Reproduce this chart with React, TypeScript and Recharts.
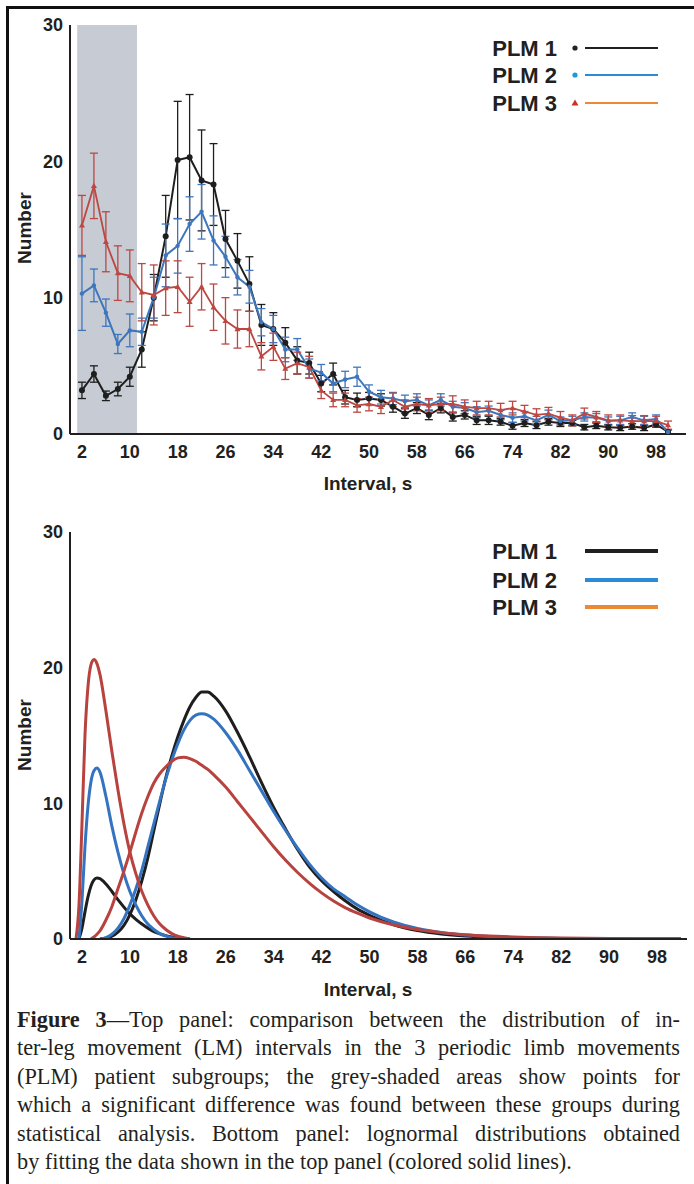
import { ErrorBar, Line, LineChart, ReferenceArea, XAxis, YAxis } from "recharts";

// top panel: LM interval histogram (mean +/- error) per PLM subgroup
const intervals = [
  2, 4, 6, 8, 10, 12, 14, 16, 18, 20, 22, 24, 26, 28, 30, 32, 34, 36, 38, 40, 42, 44, 46, 48, 50,
  52, 54, 56, 58, 60, 62, 64, 66, 68, 70, 72, 74, 76, 78, 80, 82, 84, 86, 88, 90, 92, 94, 96, 98, 100,
];
const plm1 = [
  3.2, 4.4, 2.8, 3.3, 4.2, 6.2, 10.0, 14.5, 20.1, 20.3, 18.6, 18.3, 14.3, 12.7, 11.0, 8.0, 7.7, 6.7, 5.4, 5.2,
  3.7, 4.4, 2.7, 2.5, 2.6, 2.5, 2.0, 1.5, 1.9, 1.4, 1.9, 1.25, 1.4, 1.0, 1.0, 0.9, 0.6, 0.8, 0.65, 0.9,
  0.8, 0.8, 0.5, 0.6, 0.5, 0.45, 0.55, 0.45, 0.7, 0.15,
];
const plm1Err = [
  0.6, 0.6, 0.35, 0.5, 0.7, 1.3, 1.7, 3.0, 4.3, 4.6, 3.7, 3.0, 2.1, 2.0, 2.0, 1.5, 1.2, 1.1, 1.0, 0.8,
  0.6, 0.8, 0.5, 0.5, 0.45, 0.45, 0.4, 0.35, 0.4, 0.35, 0.35, 0.3, 0.3, 0.3, 0.3, 0.25, 0.25, 0.25, 0.25, 0.25,
  0.25, 0.2, 0.2, 0.2, 0.2, 0.2, 0.2, 0.2, 0.2, 0.15,
];
const plm2 = [
  10.3, 10.9, 8.9, 6.6, 7.6, 7.5, 10.0, 13.1, 13.8, 15.4, 16.3, 14.2, 13.0, 11.5, 10.8, 8.2, 7.7, 6.2, 6.2, 4.8,
  4.5, 3.7, 4.0, 4.2, 3.1, 2.7, 2.6, 2.4, 2.5, 2.1, 2.5, 2.0, 1.9, 1.6, 1.7, 1.4, 1.2, 1.3, 1.0, 1.4,
  0.95, 1.0, 1.25, 1.2, 0.95, 1.0, 1.25, 1.0, 1.1, 0.15,
];
const plm2Err = [
  2.7, 1.2, 1.0, 0.7, 1.2, 1.0, 1.5, 2.3, 2.0, 2.0, 2.0, 1.8, 1.5, 1.3, 1.2, 1.0, 1.0, 0.9, 0.8, 0.7,
  0.6, 0.6, 0.6, 0.7, 0.5, 0.5, 0.45, 0.45, 0.45, 0.4, 0.45, 0.4, 0.4, 0.4, 0.35, 0.35, 0.35, 0.35, 0.3, 0.35,
  0.3, 0.3, 0.3, 0.3, 0.3, 0.3, 0.3, 0.3, 0.3, 0.15,
];
const plm3 = [
  15.3, 18.2, 14.1, 11.8, 11.6, 10.4, 10.2, 10.7, 10.8, 9.7, 10.8, 9.3, 8.3, 7.7, 7.7, 5.7, 6.4, 4.8, 5.2, 4.9,
  3.2, 2.5, 2.5, 2.1, 2.2, 2.0, 2.5, 2.0, 2.2, 2.1, 2.2, 2.2, 2.0, 1.9, 1.9, 1.75, 1.9, 1.65, 1.4, 1.5,
  1.2, 1.0, 1.5, 1.25, 1.0, 1.0, 0.95, 0.95, 0.95, 0.65,
];
const plm3Err = [
  2.2, 2.4, 2.2, 2.0, 1.9, 2.1, 2.2, 2.0, 1.9, 1.8, 1.7, 1.7, 1.7, 1.4, 1.3, 1.0, 1.0, 0.8, 0.8, 0.8,
  0.6, 0.5, 0.5, 0.5, 0.5, 0.5, 0.5, 0.5, 0.5, 0.5, 0.5, 0.6, 0.5, 0.5, 0.5, 0.5, 0.5, 0.45, 0.45, 0.45,
  0.45, 0.4, 0.4, 0.4, 0.4, 0.4, 0.4, 0.4, 0.35, 0.3,
];
// grey-shaded significant range
const sigBand = [1.2, 11.2];

// bottom panel: fitted lognormal components
const fitX = [
  1, 1.5, 2, 2.5, 3, 3.5, 4, 4.5, 5, 6, 7, 8, 9, 10, 11, 12, 13, 14, 15, 16, 17, 18, 19, 20, 21, 22, 23, 24,
  26, 28, 30, 32, 34, 36, 38, 40, 42, 44, 46, 48, 50, 54, 58, 62, 66, 70, 74, 78, 82, 86, 90, 94, 98, 102,
];
const fit1Short = [
  null, 0, 0.8, 2.0, 3.1, 3.9, 4.35, 4.5, 4.45, 4.05, 3.5, 2.9, 2.35, 1.85, 1.45, 1.1, 0.8, 0.55, 0.38, 0.25,
  0.15, 0.08, 0.03, 0, null, null, null, null, null, null, null, null, null, null, null, null, null, null, null, null,
  null, null, null, null, null, null, null, null, null, null, null, null, null, null,
];
const fit1Long = [
  null, null, null, null, null, null, null, null, 0, 0.05, 0.2, 0.5, 1.0, 1.8, 2.9, 4.3, 6.0, 8.0, 10.0, 11.9,
  13.5, 14.9, 16.1, 17.1, 17.8, 18.2, 18.2, 17.9, 16.8, 15.2, 13.4, 11.5, 9.7, 8.1, 6.6, 5.3, 4.3, 3.5, 2.8, 2.2,
  1.75, 1.05, 0.62, 0.37, 0.22, 0.13, 0.08, 0.05, 0.03, 0.02, 0.01, 0.005, 0, 0,
];
const fit2Short = [
  null, 0, 2.8, 6.8, 9.8, 11.6, 12.4, 12.6, 12.3, 10.5, 8.3, 6.4, 4.8, 3.5, 2.5, 1.7, 1.1, 0.7, 0.4, 0.22,
  0.1, 0.04, 0, null, null, null, null, null, null, null, null, null, null, null, null, null, null, null, null, null,
  null, null, null, null, null, null, null, null, null, null, null, null, null, null,
];
const fit2Long = [
  null, null, null, null, null, null, null, null, 0, 0.1, 0.35, 0.8, 1.5, 2.5, 3.7, 5.1, 6.8, 8.5, 10.2, 11.8,
  13.2, 14.4, 15.4, 16.1, 16.5, 16.6, 16.5, 16.2, 15.2, 13.9, 12.4, 10.9, 9.4, 8.0, 6.7, 5.5, 4.5, 3.7, 3.1, 2.5,
  2.0, 1.25, 0.78, 0.48, 0.29, 0.18, 0.11, 0.065, 0.04, 0.025, 0.015, 0.008, 0.004, 0,
];
const fit3Short = [
  0, 2.5, 8.5, 15.0, 18.6, 20.2, 20.6, 20.3, 19.5, 16.8, 13.8, 11.0, 8.5, 6.4, 4.8, 3.5, 2.5, 1.7, 1.1, 0.7,
  0.4, 0.2, 0.1, 0, null, null, null, null, null, null, null, null, null, null, null, null, null, null, null, null,
  null, null, null, null, null, null, null, null, null, null, null, null, null, null,
];
const fit3Long = [
  null, null, null, null, null, 0, 0.15, 0.35, 0.6, 1.4, 2.4, 3.7, 5.0, 6.4, 7.9, 9.3, 10.5, 11.5, 12.2, 12.7,
  13.1, 13.35, 13.4, 13.3, 13.1, 12.8, 12.5, 12.1, 11.2, 10.1, 9.0, 7.9, 6.8, 5.8, 4.9, 4.1, 3.4, 2.8, 2.3, 1.9,
  1.55, 1.05, 0.7, 0.47, 0.32, 0.22, 0.15, 0.1, 0.07, 0.05, 0.035, 0.025, 0.018, 0.013,
];

const groups = ["PLM 1", "PLM 2", "PLM 3"];
const xTicks = [2, 10, 18, 26, 34, 42, 50, 58, 66, 74, 82, 90, 98];
const yTicks = [0, 10, 20, 30];

const topData = intervals.map((x, i) => ({
  x,
  p1: plm1[i], e1: plm1Err[i],
  p2: plm2[i], e2: plm2Err[i],
  p3: plm3[i], e3: plm3Err[i],
}));
const fitData = fitX.map((x, i) => ({
  x,
  s1: fit1Short[i], l1: fit1Long[i],
  s2: fit2Short[i], l2: fit2Long[i],
  s3: fit3Short[i], l3: fit3Long[i],
}));

const SANS = "'Liberation Sans', Arial, sans-serif";
const tick = { fontSize: 18, fontWeight: 700, fill: "#231f20", fontFamily: SANS };
const frame = { stroke: "#231f20", strokeWidth: 2 };

const C1 = "#1e1e1e";
const C2 = "#3d76bd";
const C3 = "#bd4741";

function Triangle(props: any) {
  const { cx, cy } = props;
  if (cx == null || cy == null) return null;
  return <path d={`M${cx},${cy - 3.2} L${cx + 3},${cy + 2.2} L${cx - 3},${cy + 2.2} Z`} fill={C3} />;
}

function Axes() {
  return (
    <>
      <XAxis dataKey="x" type="number" domain={[0, 103]} ticks={xTicks} tick={tick} tickLine={false}
        tickSize={0} tickMargin={11} axisLine={frame} height={30} allowDataOverflow />
      <XAxis xAxisId="top" orientation="top" type="number" domain={[0, 103]} tick={false} tickLine={false}
        axisLine={frame} height={0} />
      <YAxis type="number" domain={[0, 30]} ticks={yTicks} tick={tick} tickLine={false} tickSize={0}
        tickMargin={7} axisLine={frame} width={70} allowDataOverflow />
      <YAxis yAxisId="right" orientation="right" type="number" domain={[0, 30]} tick={false} tickLine={false}
        axisLine={frame} width={0} />
    </>
  );
}

function TopPanel() {
  return (
    <LineChart width={694} height={470} data={topData} margin={{ top: 25, right: 8, left: 0, bottom: 6 }}>
      <ReferenceArea x1={sigBand[0]} x2={sigBand[1]} y1={0} y2={30} fill="#c6cbd4" fillOpacity={1} stroke="none" />
      {Axes()}
      <Line dataKey="p1" stroke={C1} strokeWidth={2} isAnimationActive={false}
        dot={{ r: 3, fill: C1, stroke: C1, strokeWidth: 0 }}>
        <ErrorBar dataKey="e1" direction="y" width={4} stroke={C1} strokeWidth={1.3} />
      </Line>
      <Line dataKey="p2" stroke={C2} strokeWidth={2} isAnimationActive={false}
        dot={{ r: 2.2, fill: C2, stroke: C2, strokeWidth: 0 }}>
        <ErrorBar dataKey="e2" direction="y" width={4} stroke={C2} strokeWidth={1.3} />
      </Line>
      <Line dataKey="p3" stroke={C3} strokeWidth={1.8} isAnimationActive={false} dot={<Triangle />}>
        <ErrorBar dataKey="e3" direction="y" width={4} stroke={C3} strokeWidth={1.3} />
      </Line>
    </LineChart>
  );
}

function BottomPanel() {
  const series: Array<[string, string]> = [["s1", C1], ["l1", C1], ["s2", "#3473c0"], ["l2", "#3473c0"], ["s3", "#b8423e"], ["l3", "#b8423e"]];
  return (
    <LineChart width={694} height={470} data={fitData} margin={{ top: 32, right: 7, left: 0, bottom: 1 }}>
      {Axes()}
      {series.map(([k, c]) => (
        <Line key={k} dataKey={k} type="monotone" stroke={c} strokeWidth={3} dot={false}
          connectNulls={false} isAnimationActive={false} />
      ))}
    </LineChart>
  );
}

function LegendBox({ top, markers }: { top: number; markers: boolean }) {
  const lineColors = ["#202020", "#2b8bd6", "#ea8a36"];
  const rowY = markers ? [23, 50, 78] : [19, 48, 75];
  return (
    <svg width={694} height={110} style={{ position: "absolute", left: 0, top }}>
      {groups.map((g, i) => (
        <g key={g}>
          <text x={557} y={rowY[i]} textAnchor="end" dominantBaseline="central" fontFamily={SANS}
            fontWeight={700} fontSize={22} fill="#231f20">{g}</text>
          {markers && i === 0 && <circle cx={575} cy={rowY[i]} r={2.6} fill="#222" />}
          {markers && i === 1 && <circle cx={575} cy={rowY[i]} r={2.6} fill="#1f9ad8" />}
          {markers && i === 2 && (
            <path d={`M575,${rowY[i] - 3.5} L578.5,${rowY[i] + 2.5} L571.5,${rowY[i] + 2.5} Z`} fill="#cc3328" />
          )}
          <line x1={585} x2={658} y1={rowY[i]} y2={rowY[i]} stroke={lineColors[i]}
            strokeWidth={markers ? 2 : 4} />
        </g>
      ))}
    </svg>
  );
}

const labelStyle: React.CSSProperties = {
  position: "absolute", fontFamily: SANS, fontWeight: 700, fontSize: 19, color: "#231f20", whiteSpace: "nowrap",
};

function YLabel({ cy }: { cy: number }) {
  return (
    <div style={{ ...labelStyle, left: 25, top: cy, transform: "translate(-50%, -50%) rotate(-90deg)" }}>Number</div>
  );
}
function XLabel({ cy }: { cy: number }) {
  return <div style={{ ...labelStyle, left: 368, top: cy, transform: "translate(-50%, -50%)" }}>Interval, s</div>;
}

const captionLines = [
  "—Top panel: comparison between the distribution of in-",
  "ter-leg movement (LM) intervals in the 3 periodic limb movements",
  "(PLM) patient subgroups; the grey-shaded areas show points for",
  "which a significant difference was found between these groups during",
  "statistical analysis. Bottom panel: lognormal distributions obtained",
  "by fitting the data shown in the top panel (colored solid lines).",
];

function Caption() {
  return (
    <div style={{ position: "absolute", left: 17, top: 1006, width: 663, fontFamily: "'Liberation Serif', 'Times New Roman', serif",
      fontSize: 22.3, lineHeight: "28.4px", color: "#231f20" }}>
      {captionLines.map((l, i) => (
        <div key={i} style={{ whiteSpace: "nowrap", textAlign: i < 5 ? "justify" : "left", textAlignLast: i < 5 ? "justify" : "left" }}>
          {i === 0 && <b>Figure 3</b>}
          {l}
        </div>
      ))}
    </div>
  );
}

export default function App() {
  return (
    <div style={{ position: "absolute", left: 0, top: 0, width: 694, height: 1184, overflow: "hidden", background: "#fff" }}>
      <div style={{ position: "absolute", left: 6, top: 6, width: 800, height: 1300, borderLeft: "3px solid #111", borderTop: "3px solid #111" }} />
      <div style={{ position: "absolute", left: 0, top: 0 }}>
        <TopPanel />
      </div>
      <div style={{ position: "absolute", left: 0, top: 500 }}>
        <BottomPanel />
      </div>
      <LegendBox top={25} markers />
      <LegendBox top={532} markers={false} />
      <YLabel cy={228} />
      <YLabel cy={735} />
      <XLabel cy={484} />
      <XLabel cy={990} />
      <Caption />
    </div>
  );
}
